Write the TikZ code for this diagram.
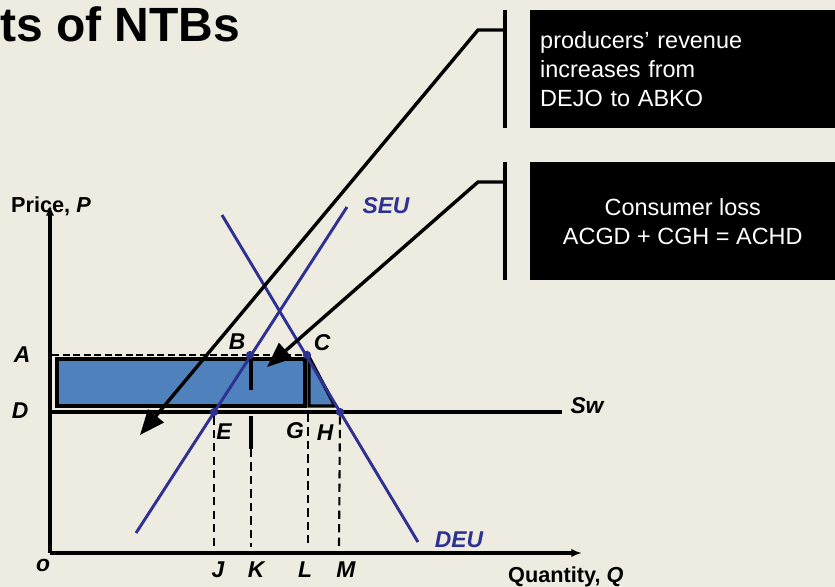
\documentclass[tikz,border=0pt]{standalone}
\usepackage{fontspec}
\setmainfont{Liberation Sans}
\usetikzlibrary{arrows.meta}
\definecolor{paper}{HTML}{EEEBE0}
\definecolor{curve}{HTML}{2E3192}
\definecolor{area}{HTML}{4F81BD}

\begin{document}
\begin{tikzpicture}[x=0.03cm,y=-0.03cm,
    axis/.style={line width=2.8pt},
    curveline/.style={curve, line width=2.5pt},
    guide/.style={line width=1.8pt, dash pattern=on 7pt off 4.5pt},
    lead/.style={line width=2.9pt},
    bar/.style={line width=3.8pt},
    dot/.style={circle, fill=curve, inner sep=0pt, minimum size=7pt},
    pt/.style={font=\fontsize{19.5}{22}\selectfont\bfseries\itshape, inner sep=0pt},
    axlabel/.style={font=\fontsize{18.5}{21}\selectfont\bfseries, inner sep=0pt},
    note/.style={fill=black, text=white, font=\fontsize{20}{24.6}\selectfont,
        minimum width=9.15cm, minimum height=3.54cm, anchor=north west}
]
\fill[paper] (0,0) rectangle (835,587);
\useasboundingbox (0,0) rectangle (835,587);

\node[anchor=base west, font=\fontsize{41}{44}\selectfont\bfseries, inner sep=0pt] (title) at (0,42) {ts of NTBs};

\coordinate (o) at (50,553);
\coordinate (ytop) at (50,205);
\coordinate (xend) at (582,553);
\coordinate (swend) at (562,412);
\coordinate (D) at (50,412);

\filldraw[fill=area, draw=black, line width=2.9pt] (57,359) rectangle (305,406);
\filldraw[fill=area, draw=black, line width=2.9pt] (309,357) -- (309,406) -- (335,406) -- cycle;
\draw[line width=1.6pt, dash pattern=on 6pt off 3pt] (52,355) -- (308,355);

\draw[axis] (D) -- (swend);
\draw[axis, -{Latex[length=9pt, width=7pt]}] (o) -- (ytop);
\draw[axis, -{Latex[length=9pt, width=7pt]}] (o) -- (xend);

\coordinate (s1) at (136,533);
\coordinate (s2) at (347,207);
\coordinate (d1) at (222,215);
\coordinate (d2) at (418,542);
\draw[curveline] (s1) -- (s2);
\draw[curveline] (d1) -- (d2);

\node[dot] (B) at (250,355) {};
\node[dot] (C) at (307,355) {};
\node[dot] (E) at (214,412) {};
\node[dot] (H) at (340,412) {};

\coordinate (J) at (214,547);
\coordinate (K1) at (251,359);
\coordinate (K2) at (251,390);
\coordinate (K3) at (251,416);
\coordinate (K4) at (251,449);
\coordinate (K) at (251,547);
\coordinate (Lt) at (308,414);
\coordinate (L) at (308,547);
\coordinate (M) at (339,547);

\draw[guide] (E) -- (J);
\draw[line width=2.8pt] (K1) -- (K2);
\draw[line width=2.8pt] (K3) -- (K4);
\draw[guide] (K4) -- (K);
\draw[guide] (Lt) -- (L);
\draw[guide] (H) -- (M);

\node[pt] (lA) at (22,355) {A};
\node[pt] (lD) at (20,411) {D};
\node[pt] (lB) at (237,342) {B};
\node[pt] (lC) at (322,343) {C};
\node[pt] (lE) at (224,432) {E};
\node[pt] (lG) at (295,431) {G};
\node[pt] (lH) at (325,433) {H};
\node[pt] (lJ) at (218,570) {J};
\node[pt] (lK) at (256,570) {K};
\node[pt] (lL) at (305,570) {L};
\node[pt] (lM) at (346,570) {M};
\node[pt] (lo) at (43,565) {o};
\node[pt, text=curve] (seu) at (386,206) {SEU};
\node[pt, text=curve] (deu) at (459,540) {DEU};
\node[pt] (sw) at (587,406) {Sw};

\node[axlabel, anchor=base west] (price) at (11,212) {Price, \textit{P}};
\node[axlabel, anchor=base west] (qty) at (508,582) {Quantity, \textit{Q}};

\node[note, align=left, text width=8.55cm, inner xsep=0.3cm] (rev) at (530,10) {producers’ revenue\\increases from\\DEJO to ABKO};
\node[note, align=center] (loss) at (530,162) {Consumer loss\\ACGD + CGH = ACHD};

\coordinate (r1) at (505,10);
\coordinate (r2) at (505,128);
\coordinate (r3) at (505,30);
\coordinate (r4) at (478,30);
\coordinate (rt) at (140,435);
\coordinate (c1) at (505,162);
\coordinate (c2) at (505,280);
\coordinate (c3) at (505,182);
\coordinate (c4) at (478,182);
\coordinate (ct) at (267,367);

\draw[bar] (r1) -- (r2);
\draw[bar] (c1) -- (c2);
\draw[lead, -{Triangle[length=0.75cm, width=0.6cm]}] (r3) -- (r4) -- (rt);
\draw[lead, -{Triangle[length=0.75cm, width=0.6cm]}] (c3) -- (c4) -- (ct);
\end{tikzpicture}
\end{document}
